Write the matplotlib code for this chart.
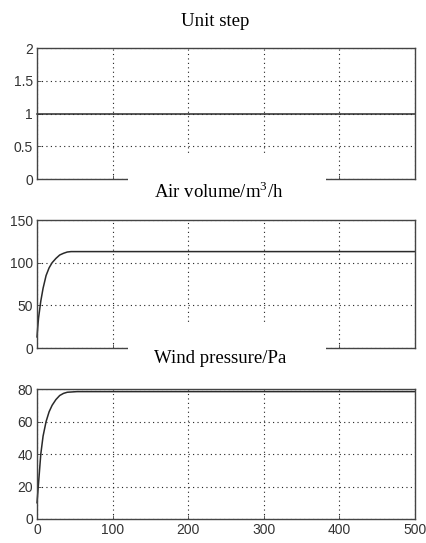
import matplotlib
matplotlib.use('Agg')
import matplotlib.pyplot as plt
from matplotlib.patches import Rectangle

# Time axis and responses
t_step = [0, 500]
unit_step = [1, 1]

t_air = [0, 1, 2, 5, 8, 12, 16, 20, 25, 30, 35, 40, 45, 500]
air_volume = [13, 25, 35, 55, 70, 85, 94, 100, 105, 109, 111, 112.5, 113, 113]

t_wind = [0, 1, 2, 5, 8, 12, 16, 20, 25, 30, 35, 40, 53, 500]
wind_pressure = [10, 16, 22, 40, 51, 60, 66, 70, 73.5, 76, 77.3, 78, 78.4, 78.4]

titles = ['Unit step', r'Air volume/m$^\mathregular{3}$/h', 'Wind pressure/Pa']
y_limits = [(0, 2), (0, 150), (0, 80)]
y_ticks = [[0, 0.5, 1, 1.5, 2], [0, 50, 100, 150], [0, 20, 40, 60, 80]]
y_ticklabels = [['0', '0.5', '1', '1.5', '2'], ['0', '50', '100', '150'],
                ['0', '20', '40', '60', '80']]
x_ticks = [0, 100, 200, 300, 400, 500]

plt.rcParams['mathtext.fontset'] = 'custom'
plt.rcParams['mathtext.rm'] = 'Liberation Serif'

fig = plt.figure(figsize=(4.27, 5.43), dpi=100)
fig.patch.set_facecolor('white')

# axes boxes in figure fractions (left, bottom, width, height)
positions = [(0.0867, 0.6703, 0.8852, 0.2413),
             (0.0867, 0.3591, 0.8852, 0.2357),
             (0.0867, 0.0442, 0.8852, 0.2394)]
series = [(t_step, unit_step), (t_air, air_volume), (t_wind, wind_pressure)]

axes = []
for i, pos in enumerate(positions):
    ax = fig.add_axes(pos)
    x, y = series[i]
    ax.plot(x, y, color='#2a2a2a', linewidth=1.1, clip_on=False)
    ax.set_xlim(0, 500)
    ax.set_ylim(*y_limits[i])
    ax.set_xticks(x_ticks)
    ax.set_yticks(y_ticks[i])
    ax.set_yticklabels(y_ticklabels[i])
    if i < 2:
        ax.set_xticklabels([])
    ax.grid(True, linestyle=(0, (1, 3)), color='#222222', linewidth=0.8)
    ax.tick_params(direction='in', length=3, width=0.6, colors='#444444',
                   labelcolor='#333333', labelsize=10, pad=3)
    for lab in ax.get_xticklabels() + ax.get_yticklabels():
        lab.set_fontfamily('Liberation Sans')
    for s in ax.spines.values():
        s.set_color('#444444')
        s.set_linewidth(1.0)
    axes.append(ax)

# MATLAB-style titles: white boxes covering part of the axes above
for yb in [154, 322]:
    fig.patches.append(Rectangle((128 / 427, 1 - (yb + 56) / 543), 198 / 427, 56 / 543,
                                 transform=fig.transFigure, facecolor='white',
                                 edgecolor='none', zorder=5))

title_x = [0.503, 0.513, 0.515]
title_y = [0.952, 0.635, 0.3315]
for txt, tx, ty in zip(titles, title_x, title_y):
    fig.text(tx, ty, txt, ha='center', va='baseline', fontsize=13.5,
             family='Liberation Serif', color='black', zorder=6)

fig.savefig('out.png', dpi=100, facecolor='white')
